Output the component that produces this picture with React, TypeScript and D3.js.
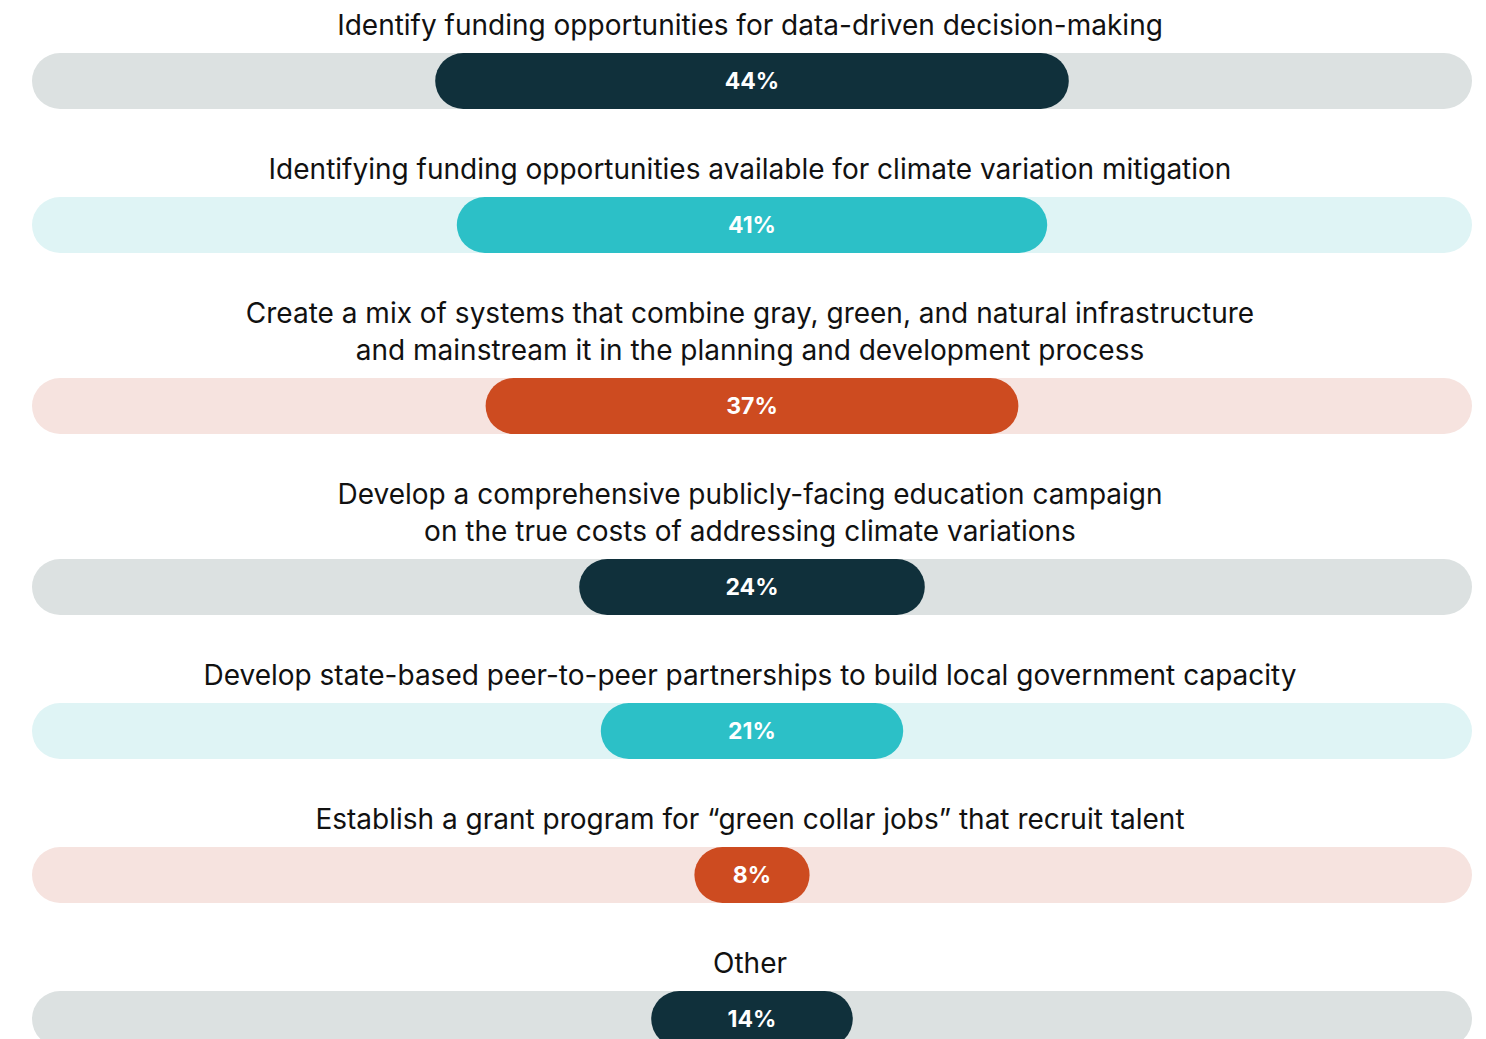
import React, { useEffect, useRef } from 'react'
import * as d3 from 'd3'

// survey responses, one row per bar
const labels: string[][] = [
  ['Identify funding opportunities for data-driven decision-making'],
  ['Identifying funding opportunities available for climate variation mitigation'],
  ['Create a mix of systems that combine gray, green, and natural infrastructure', 'and mainstream it in the planning and development process'],
  ['Develop a comprehensive publicly-facing education campaign', 'on the true costs of addressing climate variations'],
  ['Develop state-based peer-to-peer partnerships to build local government capacity'],
  ['Establish a grant program for \u201cgreen collar jobs\u201d that recruit talent'],
  ['Other'],
]
const values = [44, 41, 37, 24, 21, 8, 14]
const barColors = ['#10303b', '#2cc0c7', '#cd4b20']
const trackColors = ['#dce1e1', '#dff4f5', '#f6e3df']

const W = 1486
const H = 1039

export default function App() {
  const ref = useRef<SVGSVGElement>(null)

  useEffect(() => {
    const svg = d3.select(ref.current)
    svg.selectAll('*').remove()

    const left = 32, right = 1472
    const cx = (left + right) / 2
    const barH = 56
    const lineGap = 37
    const x = d3.scaleLinear().domain([0, 100]).range([0, right - left])

    // work out vertical positions
    let y = 25
    const rows = labels.map((lines, i) => {
      const lineYs = lines.map((_, j) => y + j * lineGap)
      const top = lineYs[lineYs.length - 1] + 28
      y = top + barH + 60
      return { lines, lineYs, top, value: values[i], i }
    })

    const g = svg.selectAll('g.row').data(rows).enter().append('g').attr('class', 'row')

    g.each(function (d) {
      const row = d3.select(this)
      row.selectAll('text.lbl')
        .data(d.lines.map((t, j) => ({ t, y: d.lineYs[j] })))
        .enter()
        .append('text')
        .attr('class', 'lbl')
        .attr('x', cx - 2)
        .attr('y', (l) => l.y)
        .attr('dy', '0.35em')
        .attr('text-anchor', 'middle')
        .attr('font-family', 'Inter, "Open Sans", sans-serif')
        .attr('font-size', 28)
        .attr('fill', '#111')
        .text((l) => l.t)
    })

    g.append('rect')
      .attr('x', left)
      .attr('y', (d) => d.top)
      .attr('width', right - left)
      .attr('height', barH)
      .attr('rx', barH / 2)
      .attr('fill', (d) => trackColors[d.i % 3])

    g.append('rect')
      .attr('x', (d) => cx - x(d.value) / 2)
      .attr('y', (d) => d.top)
      .attr('width', (d) => x(d.value))
      .attr('height', barH)
      .attr('rx', barH / 2)
      .attr('fill', (d) => barColors[d.i % 3])

    g.append('text')
      .attr('x', cx)
      .attr('y', (d) => d.top + barH / 2)
      .attr('dy', '0.35em')
      .attr('text-anchor', 'middle')
      .attr('font-family', 'Inter, "Open Sans", sans-serif')
      .attr('font-weight', 700)
      .attr('font-size', 23)
      .attr('fill', '#fff')
      .text((d) => d.value + '%')
  }, [])

  return (
    <svg ref={ref} width={W} height={H} style={{ position: 'absolute', left: 0, top: 0, background: '#fff' }} />
  )
}
